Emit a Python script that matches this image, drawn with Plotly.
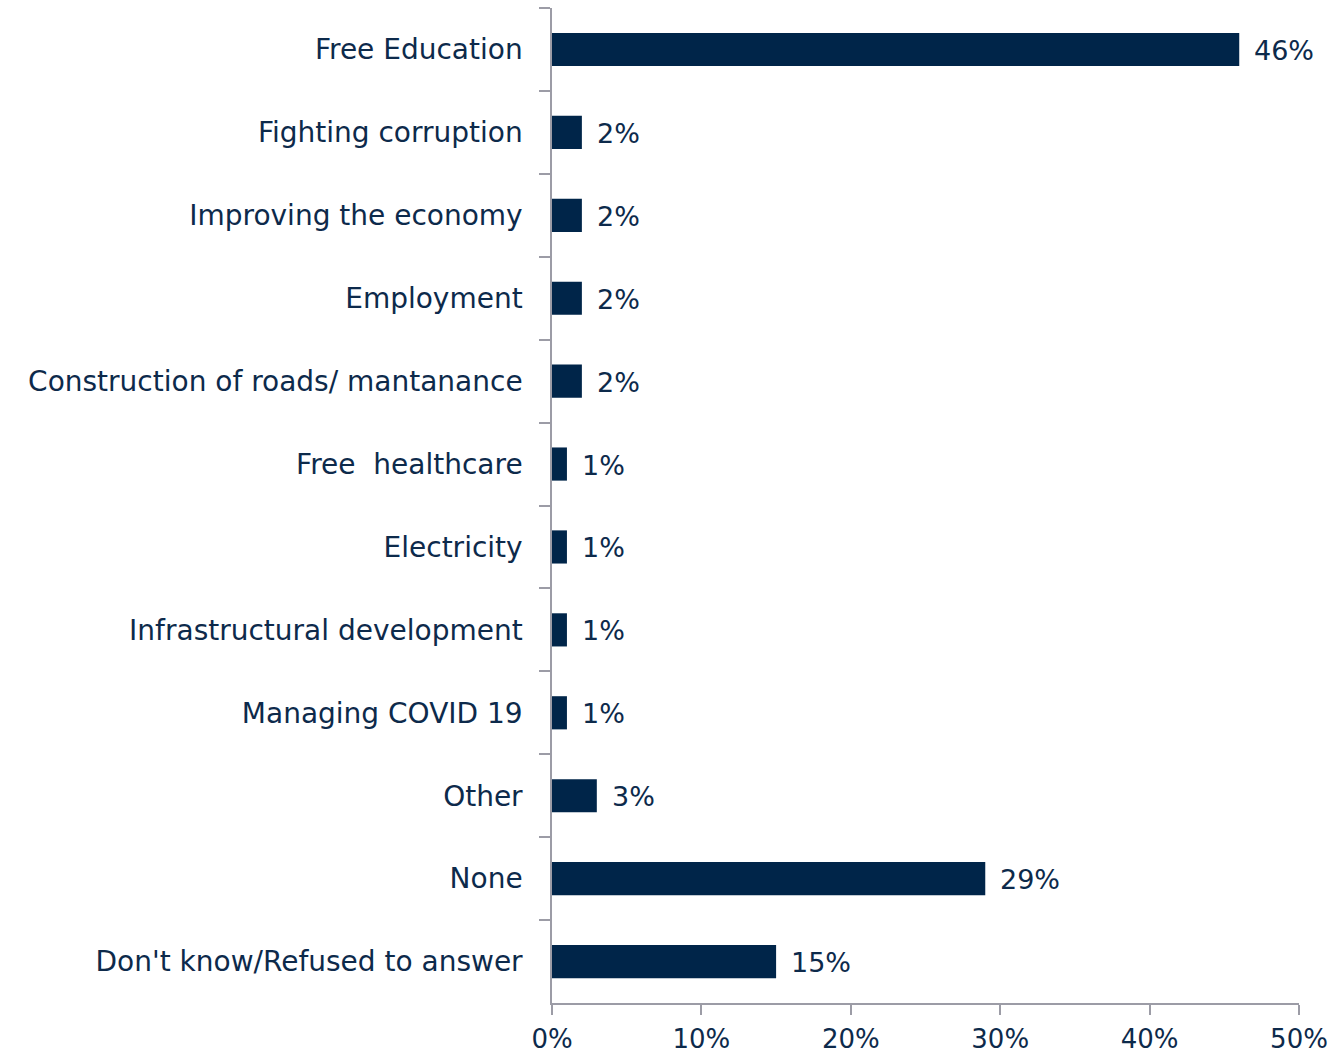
import plotly.graph_objects as go

# Survey responses, listed top to bottom
categories = [
    "Free Education",
    "Fighting corruption",
    "Improving the economy",
    "Employment",
    "Construction of roads/ mantanance",
    "Free  healthcare",
    "Electricity",
    "Infrastructural development",
    "Managing COVID 19",
    "Other",
    "None",
    "Don't know/Refused to answer",
]
shares = [46, 2, 2, 2, 2, 1, 1, 1, 1, 3, 29, 15]
x_ticks = [0, 10, 20, 30, 40, 50]
x_tick_labels = ["0%", "10%", "20%", "30%", "40%", "50%"]

BAR = "#002549"
TEXT = "#0d2a4b"
AXIS = "#9c9ca6"
FONT = "DejaVu Sans"
SIZE = 28

fig = go.Figure(
    go.Bar(
        x=shares,
        y=categories,
        orientation="h",
        marker=dict(color=BAR, line=dict(width=0)),
        hoverinfo="skip",
    )
)

# Value labels just past the end of each bar
for cat, val in zip(categories, shares):
    fig.add_annotation(
        x=val, y=cat, text=f"{val}%", showarrow=False,
        xanchor="left", xshift=13, yshift=-1,
        font=dict(family=FONT, size=SIZE - 1, color=TEXT),
    )

fig.update_layout(
    width=1341, height=1057,
    margin=dict(l=552, r=42, t=8, b=54, autoexpand=False),
    paper_bgcolor="white", plot_bgcolor="white",
    bargap=0.6,
    showlegend=False,
    font=dict(family=FONT, size=SIZE, color=TEXT),
)

fig.update_xaxes(
    range=[0, 50],
    tickvals=x_ticks, ticktext=x_tick_labels,
    showgrid=False, zeroline=False,
    showline=True, linecolor=AXIS, linewidth=1.5,
    ticks="outside", ticklen=10, tickcolor=AXIS, tickwidth=1.5,
    ticklabelstandoff=2,
    tickfont=dict(family=FONT, size=SIZE - 2, color=TEXT),
    automargin=False,
)

fig.update_yaxes(
    categoryorder="array", categoryarray=categories,
    autorange="reversed",
    showgrid=False, zeroline=False,
    showline=True, linecolor=AXIS, linewidth=1.5,
    ticks="outside", tickson="boundaries", ticklen=11,
    tickcolor=AXIS, tickwidth=1.5,
    ticklabelstandoff=22,
    tickfont=dict(family=FONT, size=SIZE, color=TEXT),
    automargin=False,
)

fig.write_html("out.html")
